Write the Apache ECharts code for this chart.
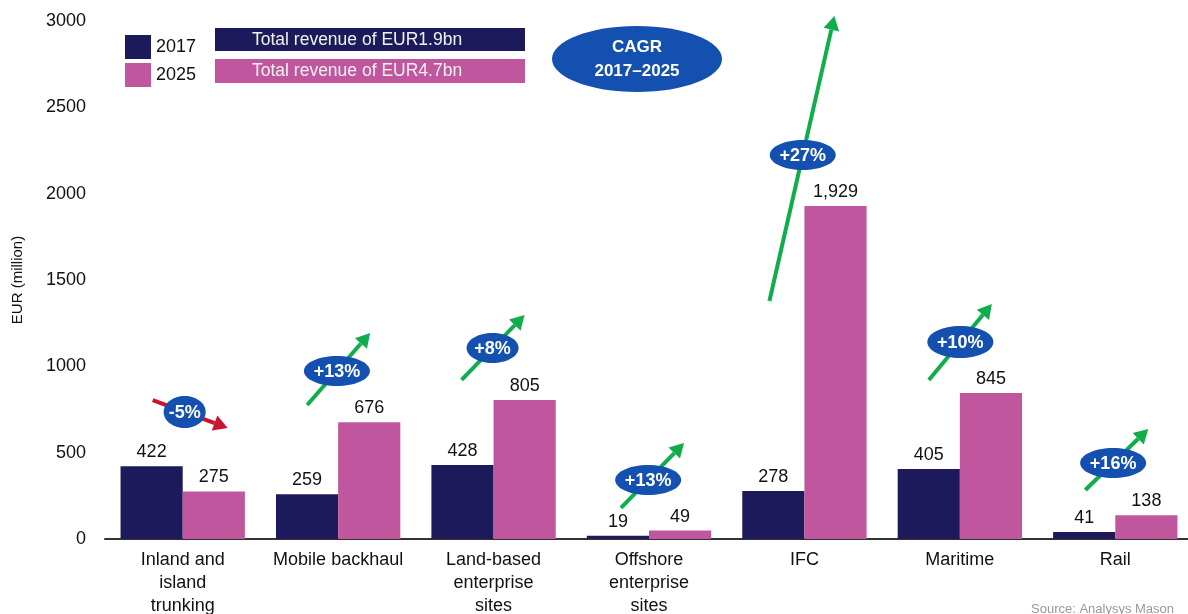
<!DOCTYPE html>
<html><head><meta charset="utf-8">
<script src="https://cdn.jsdelivr.net/npm/echarts@6/dist/echarts.min.js"></script>
<style>html,body{margin:0;padding:0;background:#fff}#c{width:1188px;height:614px}</style>
</head><body><div id="c"></div>
<script>
const categories = ['Inland and\nisland\ntrunking','Mobile backhaul','Land-based\nenterprise\nsites','Offshore\nenterprise\nsites','IFC','Maritime','Rail'];
const values2017 = [422, 259, 428, 19, 278, 405, 41];
const values2025 = [275, 676, 805, 49, 1929, 845, 138];
const cagrLabels = ['-5%','+13%','+8%','+13%','+27%','+10%','+16%'];
const yTicks = [0, 500, 1000, 1500, 2000, 2500, 3000];
const legendNames = ['2017','2025'];
const totalTexts = ['Total revenue of EUR1.9bn','Total revenue of EUR4.7bn'];

// annotation layout: arrow start/end and bubble centre in value units, x offsets in px from category centre
const annot = [
  {from:805, to:643, bub:736, dx1:-30, dx2:45, rx:21, ry:16, down:true},
  {from:776, to:1193, bub:973, dx1:-31, dx2:32, rx:33, ry:15},
  {from:921, to:1297, bub:1106, dx1:-32, dx2:31, rx:26, ry:15},
  {from:180, to:556, bub:342, dx1:-28, dx2:35, rx:33, ry:15},
  {from:1378, to:3029, bub:2224, dx1:-35, dx2:30, rx:33, ry:15},
  {from:921, to:1361, bub:1141, dx1:-31, dx2:32, rx:33, ry:16},
  {from:284, to:637, bub:440, dx1:-30, dx2:33, rx:33, ry:15}
];

const NAVY = '#1c1a5b', PINK = '#c0569e', BLUE = '#1350b0', GREEN = '#10ad4c', RED = '#c8142f';
const FONT = '"Liberation Sans", Arial, sans-serif';

const chart = echarts.init(document.getElementById('c'), null, {renderer:'canvas'});
const fmt = p => Number(p.value).toLocaleString('en-US');
chart.setOption({
  animation:false,
  textStyle:{fontFamily:FONT},
  grid:{left:105, top:21, height:518, width:1088, containLabel:false, outerBoundsMode:'none'},
  legend:{
    data:legendNames, orient:'vertical', left:120, top:30, itemWidth:26, itemHeight:24, itemGap:4,
    icon:'rect', textStyle:{fontSize:18, color:'#111', fontFamily:FONT}, selectedMode:false
  },
  xAxis:{
    type:'category', data:categories,
    axisLine:{lineStyle:{color:'#333', width:2}},
    axisTick:{show:false},
    axisLabel:{interval:0, fontSize:18, color:'#111', lineHeight:23, margin:10, fontFamily:FONT}
  },
  yAxis:{
    type:'value', min:yTicks[0], max:yTicks[yTicks.length-1], interval:500,
    name:'EUR (million)', nameLocation:'middle', nameGap:80, nameRotate:90,
    nameTextStyle:{fontSize:15, color:'#111', fontFamily:FONT},
    axisLine:{show:false}, axisTick:{show:false}, splitLine:{show:false},
    axisLabel:{fontSize:18, color:'#111', margin:19, fontFamily:FONT, formatter:v=>String(v)}
  },
  series:[
    {name:legendNames[0], type:'bar', data:values2017, itemStyle:{color:NAVY}, barGap:'0%', barCategoryGap:'20%',
     label:{show:true, position:'top', distance:5, fontSize:18, color:'#111', formatter:fmt, fontFamily:FONT}},
    {name:legendNames[1], type:'bar', data:values2025, itemStyle:{color:PINK}, barGap:'0%', barCategoryGap:'20%',
     label:{show:true, position:'top', distance:5, fontSize:18, color:'#111', formatter:fmt, fontFamily:FONT}}
  ]
});

function arrow(x1,y1,x2,y2,color){
  const ang = Math.atan2(y2-y1, x2-x1);
  const L = 14, W = 8;
  const bx = x2 - L*Math.cos(ang), by = y2 - L*Math.sin(ang);
  const px = -Math.sin(ang), py = Math.cos(ang);
  return [
    {type:'line', z:100, shape:{x1:x1,y1:y1,x2:bx,y2:by}, style:{stroke:color, lineWidth:4}},
    {type:'polygon', z:100, shape:{points:[[x2,y2],[bx+px*W,by+py*W],[bx-px*W,by-py*W]]}, style:{fill:color}}
  ];
}

const g = [];
// legend total revenue bars
g.push({type:'rect', left:215, top:28, shape:{width:310, height:23}, style:{fill:NAVY}});
g.push({type:'rect', left:215, top:59, shape:{width:310, height:24}, style:{fill:PINK}});
g.push({type:'text', left:252, top:31, style:{text:totalTexts[0], fill:'#f2f2f2', font:'17.5px '+FONT}});
g.push({type:'text', left:252, top:62, style:{text:totalTexts[1], fill:'#f2f2f2', font:'17.5px '+FONT}});
// CAGR ellipse
g.push({type:'ellipse', shape:{cx:637, cy:59, rx:85, ry:33}, style:{fill:BLUE}});
g.push({type:'text', x:637, y:59, style:{text:'CAGR\n2017–2025', fill:'#fff', font:'bold 17px '+FONT, align:'center', verticalAlign:'middle', lineHeight:24}});
// source
g.push({type:'text', left:1031, top:603, style:{text:'Source: Analysys Mason', fill:'#999', font:'13px '+FONT}});

annot.forEach((a,i)=>{
  const p1 = chart.convertToPixel({xAxisIndex:0,yAxisIndex:0},[i,a.from]);
  const p2 = chart.convertToPixel({xAxisIndex:0,yAxisIndex:0},[i,a.to]);
  const pb = chart.convertToPixel({xAxisIndex:0,yAxisIndex:0},[i,a.bub]);
  arrow(p1[0]+a.dx1, p1[1], p2[0]+a.dx2, p2[1], a.down?RED:GREEN).forEach(e=>g.push(e));
  const bx = p1[0] + a.dx1 + (a.dx2 - a.dx1) * ((a.bub - a.from)/(a.to - a.from));
  g.push({type:'ellipse', z:110, shape:{cx:bx, cy:pb[1], rx:a.rx, ry:a.ry}, style:{fill:BLUE}});
  g.push({type:'text', z:111, x:bx, y:pb[1]+1, style:{text:cagrLabels[i], fill:'#fff', font:'bold 18px '+FONT, align:'center', verticalAlign:'middle'}});
});
chart.setOption({graphic:g});
</script>
</body></html>
